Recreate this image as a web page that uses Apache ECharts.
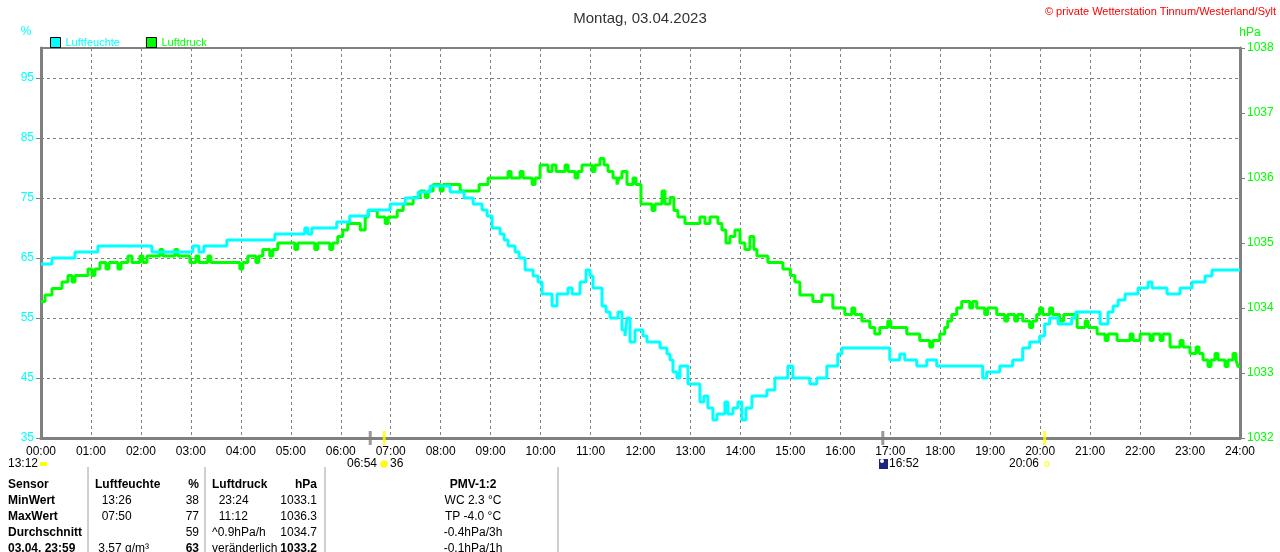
<!DOCTYPE html>
<html>
<head>
<meta charset="utf-8">
<title>Montag, 03.04.2023</title>
<script src="https://cdn.jsdelivr.net/npm/echarts@6/dist/echarts.min.js"></script>
<style>
html, body { margin: 0; padding: 0; background: #fff; }
#chart { width: 1280px; height: 552px; }
</style>
</head>
<body>
<div id="chart"></div>
<script>
// Stundenbeschriftung der x-Achse
const hourLabels = ['00:00','01:00','02:00','03:00','04:00','05:00','06:00','07:00','08:00','09:00','10:00','11:00','12:00',
    '13:00','14:00','15:00','16:00','17:00','18:00','19:00','20:00','21:00','22:00','23:00','24:00'];

// Luftfeuchte [Stunde, %] – Wechselpunkte
const humidityPoints = [
    [0,64],[0.22,65],[0.68,66],[1.14,67],[2.22,66],[3.04,67],[3.16,66],[3.26,67],[3.72,68],[4.68,69],
    [5.28,70],[5.34,69],[5.42,70],[5.92,71],[6.18,72],[6.55,73],[6.99,74],[7.29,75],[7.55,76],[7.79,77],
    [8.19,76],[8.47,75],[8.65,74],[8.83,73],[8.93,72],[9.03,70],[9.19,69],[9.27,68],[9.35,67],[9.49,66],
    [9.57,65],[9.69,63],[9.85,62],[9.95,61],[10.03,59],[10.23,57],[10.33,59],[10.55,60],[10.63,59],[10.79,61],
    [10.91,63],[10.99,62],[11.05,60],[11.23,57],[11.31,56],[11.39,55],[11.55,56],[11.63,53],[11.69,52],[11.73,55],
    [11.79,51],[11.89,53],[12.05,52],[12.13,51],[12.39,50],[12.53,49],[12.59,48],[12.65,46],[12.73,45],[12.79,47],
    [12.95,44],[13.19,41],[13.27,42],[13.35,40],[13.45,38],[13.53,39],[13.69,41],[13.75,39],[13.85,40],[13.95,41],
    [14.03,38],[14.11,40],[14.23,42],[14.53,43],[14.69,45],[14.95,47],[15.05,45],[15.39,44],[15.53,45],[15.73,47],
    [15.95,49],[16.03,50],[16.99,48],[17.19,49],[17.29,48],[17.53,47],[17.73,48],[17.93,47],[18.85,45],[18.93,46],
    [19.19,47],[19.45,48],[19.65,50],[19.79,51],[19.99,52],[20.09,54],[20.19,55],[20.36,54],[20.63,55],[20.71,56],
    [21.2,54],[21.36,56],[21.46,57],[21.56,58],[21.7,59],[21.96,60],[22.16,61],[22.24,60],[22.54,59],[22.8,60],
    [23.04,61],[23.3,62],[23.44,63],[24,63]
];

// Luftdruck [Stunde, hPa]
const pressurePoints = [
    [0,1034.1],[0.08,1034.2],[0.22,1034.3],[0.42,1034.4],[0.54,1034.5],[0.62,1034.4],[0.68,1034.5],[0.94,1034.6],
    [1.02,1034.5],[1.08,1034.6],[1.18,1034.7],[1.30,1034.6],[1.36,1034.7],[1.54,1034.6],[1.60,1034.7],[1.74,1034.8],
    [1.82,1034.7],[1.98,1034.8],[2.04,1034.7],[2.12,1034.8],[2.38,1034.9],[2.44,1034.8],[2.68,1034.9],[2.74,1034.8],
    [2.98,1034.7],[3.10,1034.8],[3.16,1034.7],[3.34,1034.8],[3.40,1034.7],[3.98,1034.6],[4.04,1034.7],[4.14,1034.8],
    [4.30,1034.7],[4.36,1034.8],[4.44,1034.9],[4.58,1034.8],[4.64,1034.9],[4.74,1035.0],[5.08,1034.9],[5.14,1035.0],
    [5.48,1034.9],[5.54,1035.0],[5.78,1034.9],[5.84,1035.0],[5.94,1035.1],[6.04,1035.2],[6.14,1035.3],[6.39,1035.2],
    [6.49,1035.4],[6.55,1035.5],[6.73,1035.4],[6.89,1035.3],[6.95,1035.4],[7.13,1035.5],[7.25,1035.6],[7.45,1035.7],
    [7.59,1035.8],[7.69,1035.7],[7.75,1035.8],[7.85,1035.9],[7.99,1035.8],[8.05,1035.9],[8.39,1035.8],[8.77,1035.9],
    [8.95,1036.0],[9.35,1036.1],[9.41,1036.0],[9.59,1036.1],[9.65,1036.0],[9.83,1035.9],[9.89,1036.0],[9.99,1036.2],
    [10.15,1036.1],[10.23,1036.2],[10.31,1036.1],[10.49,1036.2],[10.55,1036.1],[10.69,1036.0],[10.75,1036.1],[10.83,1036.2],
    [11.03,1036.1],[11.09,1036.2],[11.19,1036.3],[11.27,1036.2],[11.35,1036.1],[11.45,1036.0],[11.53,1035.9],[11.57,1036.0],
    [11.63,1036.1],[11.73,1035.9],[11.85,1036.0],[11.91,1035.9],[12.01,1035.6],[12.23,1035.5],[12.29,1035.6],[12.43,1035.8],
    [12.49,1035.6],[12.59,1035.7],[12.67,1035.5],[12.75,1035.4],[12.89,1035.3],[13.19,1035.4],[13.29,1035.3],[13.39,1035.4],
    [13.55,1035.3],[13.63,1035.2],[13.71,1035.0],[13.79,1035.1],[13.89,1035.2],[13.99,1035.0],[14.09,1034.9],[14.19,1035.1],
    [14.27,1034.9],[14.33,1034.8],[14.55,1034.7],[14.85,1034.6],[15.0,1034.5],[15.09,1034.4],[15.19,1034.2],[15.45,1034.1],
    [15.63,1034.2],[15.85,1034.0],[16.09,1033.9],[16.23,1034.0],[16.29,1033.9],[16.43,1033.8],[16.59,1033.7],[16.69,1033.6],
    [16.79,1033.7],[16.95,1033.8],[17.01,1033.7],[17.33,1033.6],[17.59,1033.5],[17.79,1033.4],[17.85,1033.5],[17.99,1033.6],
    [18.09,1033.7],[18.15,1033.8],[18.23,1033.9],[18.33,1034.0],[18.43,1034.1],[18.59,1034.0],[18.65,1034.1],[18.73,1034.0],
    [18.89,1033.9],[18.95,1034.0],[19.13,1033.9],[19.29,1033.8],[19.35,1033.9],[19.49,1033.8],[19.55,1033.9],[19.65,1033.8],
    [19.79,1033.7],[19.85,1033.8],[19.93,1033.9],[19.99,1034.0],[20.05,1033.9],[20.19,1034.0],[20.25,1033.9],[20.39,1033.8],
    [20.47,1033.9],[20.74,1033.7],[20.90,1033.8],[20.96,1033.7],[21.14,1033.6],[21.30,1033.5],[21.36,1033.6],[21.54,1033.5],
    [21.80,1033.6],[21.86,1033.5],[22.00,1033.6],[22.20,1033.5],[22.26,1033.6],[22.40,1033.5],[22.46,1033.6],[22.60,1033.4],
    [22.80,1033.5],[22.86,1033.4],[23.00,1033.3],[23.12,1033.4],[23.18,1033.3],[23.26,1033.2],[23.36,1033.1],[23.42,1033.2],
    [23.50,1033.3],[23.56,1033.2],[23.70,1033.1],[23.76,1033.2],[23.86,1033.3],[23.92,1033.2],[23.96,1033.1],[24,1033.1]
];

// Markierungen an der Zeitachse (Sonne/Mond)
const grayMarks = [6.59, 16.85];
const yellowMarks = [6.87, 20.09];

// Tabelle unter dem Diagramm
const tableRows = [
    ['Sensor', 'Luftfeuchte', '%', 'Luftdruck', 'hPa', 'PMV-1:2'],
    ['MinWert', '  13:26', '38', '  23:24', '1033.1', 'WC 2.3 °C'],
    ['MaxWert', '  07:50', '77', '  11:12', '1036.3', 'TP -4.0 °C'],
    ['Durchschnitt', '', '59', '^0.9hPa/h', '1034.7', '-0.4hPa/3h'],
    ['03.04. 23:59', ' 3.57 g/m³', '63', 'veränderlich', '1033.2', '-0.1hPa/1h']
];

const FONT = '"Liberation Sans", Arial, sans-serif';

document.addEventListener('DOMContentLoaded', () => {
    const chart = echarts.init(document.getElementById('chart'));

    // Spalten der Tabelle: x-Position und Ausrichtung
    const cols = [
        { x: 8, align: 'left' },
        { x: 95, align: 'left' },
        { x: 199, align: 'right' },
        { x: 212, align: 'left' },
        { x: 317, align: 'right' },
        { x: 473, align: 'center' }
    ];
    const graphics = [];
    tableRows.forEach((row, r) => {
        row.forEach((txt, c) => {
            const bold = r === 0 || c === 0 || (r === 4 && (c === 2 || c === 4));
            graphics.push({
                type: 'text',
                x: cols[c].x, y: 485 + r * 16,
                style: {
                    text: txt, fill: '#000', font: (bold ? 'bold ' : '') + '12px ' + FONT,
                    textAlign: cols[c].align, textVerticalAlign: 'middle'
                }
            });
        });
    });
    [88, 205, 325, 558].forEach(x => {
        graphics.push({ type: 'line', shape: { x1: x, y1: 467, x2: x, y2: 552 }, style: { stroke: '#a0a0a0', lineWidth: 1 } });
    });

    // Texte unter der Zeitachse
    const small = (text, x, y, align, color, size) => ({
        type: 'text', x: x, y: y,
        style: { text: text, fill: color || '#000', font: (size || 12) + 'px ' + FONT, textAlign: align, textVerticalAlign: 'middle' }
    });
    graphics.push(small('13:12', 8, 464, 'left'));
    graphics.push({ type: 'rect', shape: { x: 40, y: 462, width: 7, height: 4 }, style: { fill: '#ffff00' } });
    graphics.push(small('06:54', 377, 464, 'right'));
    graphics.push({ type: 'circle', shape: { cx: 384, cy: 464, r: 3.5 }, style: { fill: '#ffff00', stroke: '#ffee66', lineWidth: 1 } });
    graphics.push(small('36', 390, 464, 'left'));
    graphics.push({ type: 'rect', shape: { x: 879, y: 459, width: 9, height: 10 }, style: { fill: '#1a237e' } });
    graphics.push({ type: 'circle', shape: { cx: 882, cy: 461, r: 2 }, style: { fill: '#ffffff' } });
    graphics.push(small('16:52', 889, 464, 'left'));
    graphics.push(small('20:06', 1039, 464, 'right'));
    graphics.push({ type: 'rect', shape: { x: 1045, y: 462, width: 4, height: 4 }, style: { fill: 'none', stroke: '#ffff00', lineWidth: 1 } });

    // Achsentitel und Copyright
    graphics.push(small('%', 26, 32, 'center', '#00ffff'));
    graphics.push(small('hPa', 1250, 33, 'center', '#00ff00'));
    graphics.push(small('© private Wetterstation Tinnum/Westerland/Sylt', 1276, 12, 'right', '#ff0000', 11));

    const option = {
        animation: false,
        backgroundColor: '#ffffff',
        title: {
            text: 'Montag, 03.04.2023',
            left: 'center', top: 6,
            textStyle: { fontSize: 15, fontWeight: 'normal', color: '#333', fontFamily: FONT }
        },
        legend: {
            left: 45, top: 32,
            icon: 'rect', itemWidth: 10, itemHeight: 10, itemGap: 26,
            itemStyle: { borderColor: '#000', borderWidth: 1 },
            textStyle: { fontSize: 11, fontFamily: FONT },
            data: [
                { name: 'Luftfeuchte', textStyle: { color: '#00ffff' } },
                { name: 'Luftdruck', textStyle: { color: '#00ff00' } }
            ]
        },
        grid: {
            left: 41, right: 40, top: 48, bottom: 114,
            show: true, borderColor: '#808080', borderWidth: 2
        },
        xAxis: {
            type: 'value', min: 0, max: 24, interval: 1,
            axisLine: { lineStyle: { color: '#808080', width: 3 } },
            axisTick: { show: false },
            axisLabel: {
                color: '#000', fontSize: 12, fontFamily: FONT, margin: 8,
                formatter: v => hourLabels[Math.round(v)]
            },
            splitLine: { show: true, lineStyle: { color: '#808080', type: [3, 3], width: 1 } }
        },
        yAxis: [
            {
                type: 'value', min: 35, max: 100, interval: 10,
                axisLine: { show: true, lineStyle: { color: '#808080', width: 3 } },
                axisTick: { show: true, length: 5, lineStyle: { color: '#808080' } },
                axisLabel: {
                    color: '#00ffff', fontSize: 12, fontFamily: FONT, margin: 7, showMaxLabel: false,
                    formatter: v => String(v)
                },
                splitLine: { show: true, lineStyle: { color: '#808080', type: [3, 3], width: 1 } }
            },
            {
                type: 'value', min: 1032, max: 1038, interval: 1, position: 'right',
                axisLine: { show: true, lineStyle: { color: '#808080', width: 3 } },
                axisTick: { show: true, length: 5, lineStyle: { color: '#808080' } },
                axisLabel: {
                    color: '#00ff00', fontSize: 12, fontFamily: FONT, margin: 7,
                    formatter: v => String(v)
                },
                splitLine: { show: false }
            }
        ],
        series: [
            {
                name: 'Luftdruck', type: 'line', yAxisIndex: 1,
                step: 'end', showSymbol: false, symbol: 'none',
                lineStyle: { color: '#00ff00', width: 3 },
                itemStyle: { color: '#00ff00' },
                data: pressurePoints
            },
            {
                name: 'Luftfeuchte', type: 'line', yAxisIndex: 0,
                step: 'end', showSymbol: false, symbol: 'none',
                lineStyle: { color: '#00ffff', width: 3 },
                itemStyle: { color: '#00ffff' },
                data: humidityPoints
            },
            {
                name: 'grau', type: 'scatter', yAxisIndex: 0, silent: true, clip: false, z: 5,
                symbol: 'rect', symbolSize: [3, 14],
                itemStyle: { color: '#808080' },
                data: grayMarks.map(t => [t, 35])
            },
            {
                name: 'gelb', type: 'scatter', yAxisIndex: 0, silent: true, clip: false, z: 5,
                symbol: 'rect', symbolSize: [3, 14],
                itemStyle: { color: '#ffff00' },
                data: yellowMarks.map(t => [t, 35])
            }
        ],
        graphic: graphics
    };

    chart.setOption(option);
    window.addEventListener('resize', () => chart.resize());
});
</script>
</body>
</html>
